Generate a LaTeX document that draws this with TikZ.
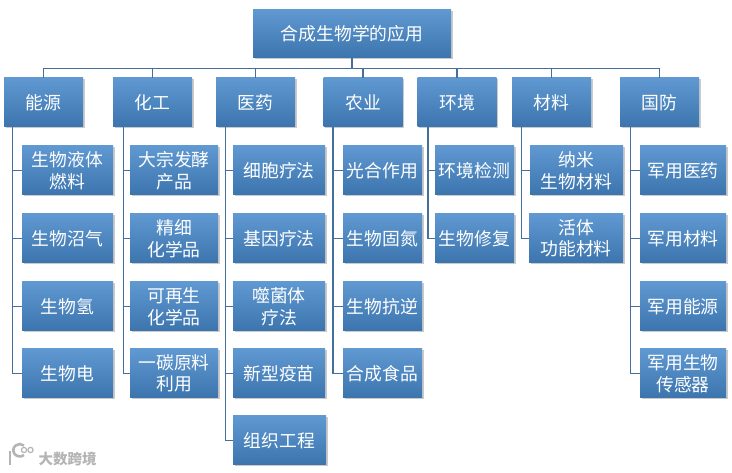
\documentclass[tikz,border=0pt]{standalone}
\usepackage{fontspec}
\setmainfont{Noto Sans CJK SC}
\usetikzlibrary{positioning,shadows}
\definecolor{BoxTop}{HTML}{6099D2}
\definecolor{BoxBot}{HTML}{3C75AE}
\definecolor{Wire}{HTML}{44709B}
\definecolor{Mark}{HTML}{B4B4B4}
\tikzset{
  box/.style={rectangle,inner sep=0pt,top color=BoxTop,bottom color=BoxBot,text=white,align=center,
    font=\fontsize{17.8}{21.5}\selectfont,drop shadow={shadow xshift=1.5pt,shadow yshift=-1.5pt,opacity=.35,fill=black!60}},
  head/.style={box,minimum width=79pt,minimum height=49pt},
  leaf/.style={box,minimum height=49pt},
  bus/.style={draw=Wire,line width=1.6pt},
  branch/.style={draw=Wire,line width=1.6pt}
}
\begin{document}
\begin{tikzpicture}[x=1pt,y=-1pt]
\useasboundingbox (0,0) rectangle (732,473);
% top
\node[box,minimum width=198pt,minimum height=48pt] (root) at (352,34) {合成生物学的应用};
% heads
\node[head] (energy) at (43.5,102.5) {能源};
\node[head] (chem) at (152.5,102.5) {化工};
\node[head] (med) at (255.5,102.5) {医药};
\node[head] (agri) at (363,102.5) {农业};
\node[head] (env) at (457,102.5) {环境};
\node[head] (mat) at (551.5,102.5) {材料};
\node[head] (def) at (659.5,102.5) {国防};
% energy
\node[leaf,minimum width=91pt] (energyA) at (67.5,170.5) {生物液体\\燃料};
\node[leaf,minimum width=91pt] (energyB) at (67.5,238.5) {生物沼气};
\node[leaf,minimum width=91pt] (energyC) at (67.5,306.5) {生物氢};
\node[leaf,minimum width=91pt] (energyD) at (67.5,373.5) {生物电};
% chem
\node[leaf,minimum width=88pt] (chemA) at (174,170.5) {大宗发酵\\产品};
\node[leaf,minimum width=88pt] (chemB) at (174,238.5) {精细\\化学品};
\node[leaf,minimum width=88pt] (chemC) at (174,306.5) {可再生\\化学品};
\node[leaf,minimum width=88pt] (chemD) at (174,373.5) {一碳原料\\利用};
% med
\node[leaf,minimum width=92pt] (medA) at (279,170.5) {细胞疗法};
\node[leaf,minimum width=92pt] (medB) at (279,238.5) {基因疗法};
\node[leaf,minimum width=92pt] (medC) at (279,306.5) {噬菌体\\疗法};
\node[leaf,minimum width=92pt] (medD) at (279,373.5) {新型疫苗};
\node[leaf,minimum width=93pt] (medE) at (279.5,440.5) {组织工程};
% agri
\node[leaf,minimum width=79pt] (agriA) at (382.5,170.5) {光合作用};
\node[leaf,minimum width=79pt] (agriB) at (382.5,238.5) {生物固氮};
\node[leaf,minimum width=79pt] (agriC) at (382.5,306.5) {生物抗逆};
\node[leaf,minimum width=79pt] (agriD) at (382.5,373.5) {合成食品};
% env
\node[leaf,minimum width=79pt] (envA) at (474.5,170.5) {环境检测};
\node[leaf,minimum width=79pt] (envB) at (474.5,238.5) {生物修复};
% mat
\node[leaf,minimum width=93pt] (matA) at (576.5,170.5) {纳米\\生物材料};
\node[leaf,minimum width=94pt] (matB) at (576,238.5) {活体\\功能材料};
% def
\node[leaf,minimum width=86pt] (defA) at (683,170.5) {军用医药};
\node[leaf,minimum width=86pt] (defB) at (683,238.5) {军用材料};
\node[leaf,minimum width=86pt] (defC) at (683,306.5) {军用能源};
\node[leaf,minimum width=86pt] (defD) at (683,373.5) {军用生物\\传感器};
% wires
\coordinate (hub) at (352,68.5);
\draw[bus] (root.south) -- (hub);
\draw[bus] (energy.north) |- (hub);
\draw[bus] (chem.north) |- (hub);
\draw[bus] (med.north) |- (hub);
\draw[bus] (agri.north) |- (hub);
\draw[bus] (env.north) |- (hub);
\draw[bus] (mat.north) |- (hub);
\draw[bus] (def.north) |- (hub);
\foreach \kid in {energyA,energyB,energyC,energyD}
  \draw[branch] ([xshift=8.5pt]energy.south west) |- (\kid.west);
\foreach \kid in {chemA,chemB,chemC,chemD}
  \draw[branch] ([xshift=10.5pt]chem.south west) |- (\kid.west);
\foreach \kid in {medA,medB,medC,medD,medE}
  \draw[branch] ([xshift=9.5pt]med.south west) |- (\kid.west);
\foreach \kid in {agriA,agriB,agriC,agriD}
  \draw[branch] ([xshift=9.5pt]agri.south west) |- (\kid.west);
\foreach \kid in {envA,envB}
  \draw[branch] ([xshift=10.5pt]env.south west) |- (\kid.west);
\foreach \kid in {matA,matB}
  \draw[branch] ([xshift=9.5pt]mat.south west) |- (\kid.west);
\foreach \kid in {defA,defB,defC,defD}
  \draw[branch] ([xshift=10.5pt]def.south west) |- (\kid.west);
% watermark
\draw[Mark,line width=2.6pt] (10,451) -- (10,465);
\draw[Mark,line width=2.6pt] (24,455) arc (50:310:6.5 and 6.2);
\draw[Mark,line width=1.2pt] (24,450) circle (2.6);
\draw[Mark,line width=1.2pt] (30.5,450) circle (2.6);
\node[font=\fontsize{14.5}{16}\selectfont\bfseries,text=Mark,inner sep=0pt] (mark) at (67.5,458.5) {大数跨境};
\end{tikzpicture}
\end{document}
